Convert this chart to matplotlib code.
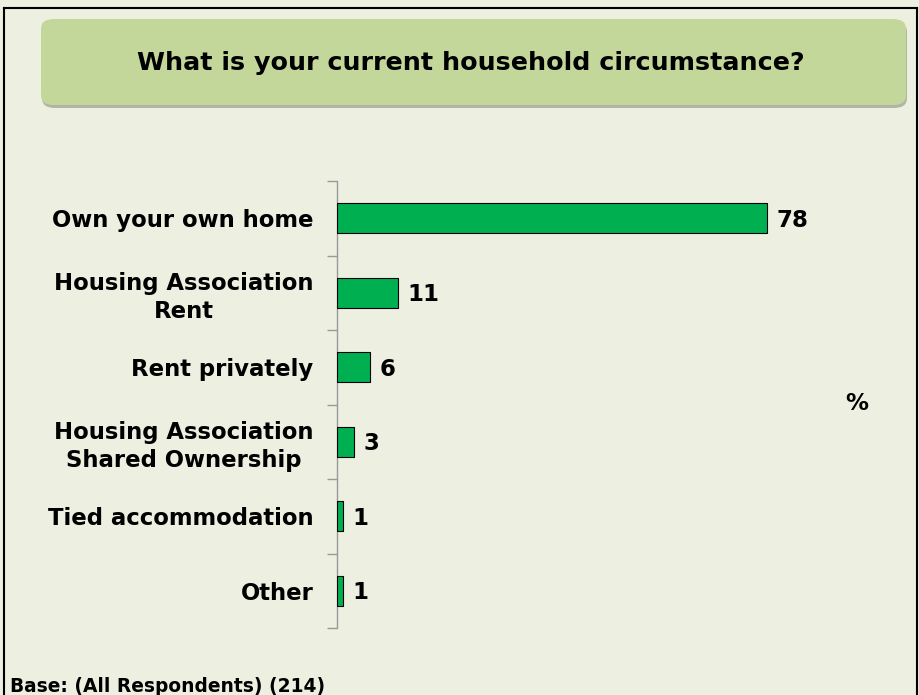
import matplotlib
matplotlib.use("Agg")
import matplotlib.pyplot as plt
from matplotlib.patches import FancyBboxPatch

categories = ["Own your own home", "Housing Association\nRent", "Rent privately",
              "Housing Association\nShared Ownership", "Tied accommodation", "Other"]
values = [78, 11, 6, 3, 1, 1]
title = "What is your current household circumstance?"
base_note = "Base: (All Respondents) (214)"

BG = "#edf0e1"
BAR = "#00b050"

fig = plt.figure(figsize=(9.19, 6.95), dpi=100)
fig.patch.set_facecolor(BG)

W, H = 919, 695
def fx(px): return px / W
def fy(py): return 1 - py / H

# outer border (left, top, right)
fig.add_artist(plt.Line2D([fx(4), fx(4)], [0, fy(8)], color="black", lw=1.5))
fig.add_artist(plt.Line2D([fx(4), fx(917)], [fy(8), fy(8)], color="black", lw=1.5))
fig.add_artist(plt.Line2D([fx(917), fx(917)], [0, fy(8)], color="black", lw=1.5))

# title box with shadow
x0, y0, x1, y1 = 41, 19, 906, 105
shadow = FancyBboxPatch((fx(x0 + 1), fy(y1 + 3)), fx(x1 - x0), (y1 - y0) / H,
                        boxstyle="round,pad=0,rounding_size=0.014",
                        transform=fig.transFigure, facecolor="#7f8577", edgecolor="none",
                        alpha=0.55, zorder=1)
fig.add_artist(shadow)
box = FancyBboxPatch((fx(x0), fy(y1)), fx(x1 - x0), (y1 - y0) / H,
                     boxstyle="round,pad=0,rounding_size=0.014",
                     transform=fig.transFigure, facecolor="#c4d79b", edgecolor="none",
                     zorder=2)
fig.add_artist(box)
fig.text(fx(471), fy(63), title, ha="center", va="center", fontsize=18.3,
         fontweight="bold", color="black", zorder=3)

ax = fig.add_axes([fx(337), fy(628), 551 / W, (628 - 181) / H])
ax.set_facecolor(BG)
ax.patch.set_alpha(0)
y = list(range(len(categories)))
ax.barh(y, values, height=0.4, color=BAR, edgecolor="black", linewidth=0.8, zorder=3)
ax.set_xlim(0, 100)
ax.set_ylim(len(categories) - 0.5, -0.5)
for yi, v in zip(y, values):
    ax.text(v + 1.8, yi + 0.03, str(v), ha="left", va="center", fontsize=16.5,
            fontweight="bold", color="black")

ax.set_yticks([i - 0.5 for i in range(len(categories) + 1)])
ax.set_yticklabels([])
ax.set_yticks(y, minor=True)
ax.set_yticklabels(categories, minor=True, fontsize=16.4, fontweight="bold",
                   ha="right", multialignment="center", linespacing=1.25)
ax.tick_params(axis="y", which="major", length=7, color="#999999", width=1)
ax.tick_params(axis="y", which="minor", length=0, pad=17)
ax.set_xticks([])
for s in ["top", "right", "bottom"]:
    ax.spines[s].set_visible(False)
ax.spines["left"].set_color("#999999")
ax.spines["left"].set_linewidth(1)

fig.text(fx(857), fy(404), "%", ha="center", va="center", fontsize=16.5,
         fontweight="bold")
fig.text(fx(10), fy(687), base_note, ha="left", va="center", fontsize=13.4,
         fontweight="bold")

fig.savefig("out.png", dpi=100, facecolor=BG)
